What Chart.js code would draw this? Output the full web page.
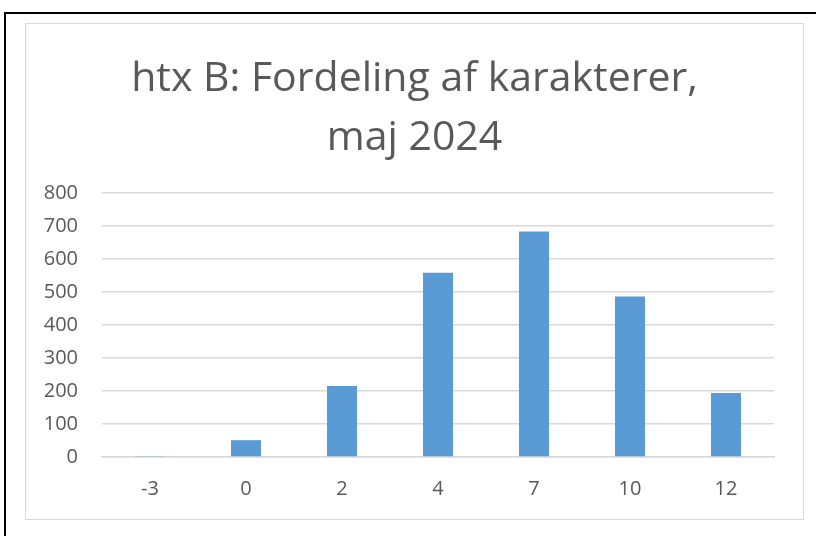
<!DOCTYPE html>
<html>
<head>
<meta charset="utf-8">
<script src="https://cdn.jsdelivr.net/npm/chart.js@4"></script>
<style>
  html, body { margin: 0; padding: 0; background: #fff; }
  body { width: 816px; height: 536px; position: relative; overflow: hidden; }
  #frame { position: absolute; left: 4px; top: 12px; width: 830px; height: 540px;
           border-left: 2px solid #000; border-top: 2px solid #000; }
  #box { position: absolute; left: 25px; top: 23px; width: 777px; height: 495px;
         border: 1px solid #d9d9d9; }
  #chart { display: block; }
</style>
</head>
<body>
<div id="frame"></div>
<div id="box"><canvas id="chart" width="777" height="495"></canvas></div>
<script>
var grades = ['-3', '0', '2', '4', '7', '10', '12'];
var counts = [3, 51, 215, 558, 683, 486, 194];
var titleLines = ['htx B: Fordeling af karakterer,', 'maj 2024'];

// title centred on the whole box, not on the (asymmetric) layout area
var boxTitle = {
    id: 'boxTitle',
    afterDraw: function(chart) {
        var c = chart.ctx;
        c.save();
        c.fillStyle = '#595959';
        c.font = '41px "Open Sans"';
        c.textAlign = 'center';
        c.textBaseline = 'middle';
        titleLines.forEach(function(line, i) {
            c.fillText(line, chart.width / 2, 55 + i * 59.5);
        });
        c.restore();
    }
};

var ctx = document.getElementById('chart').getContext('2d');
var chart = new Chart(ctx, {
    type: 'bar',
    data: {
        labels: grades,
        datasets: [{
            data: counts,
            backgroundColor: '#5b9bd5',
            borderWidth: 0,
            barPercentage: 1,
            categoryPercentage: 0.3125
        }]
    },
    options: {
        responsive: false,
        animation: false,
        layout: { padding: { left: 0, right: 29, top: 169, bottom: 21 } },
        plugins: {
            legend: { display: false },
            tooltip: { enabled: false },
            title: { display: false }
        },
        scales: {
            x: {
                grid: { display: false, drawTicks: false },
                border: { display: true, color: '#d9d9d9', width: 1.5 },
                ticks: { color: '#595959', font: { family: 'Open Sans', size: 20 }, padding: 20 },
                afterFit: function(scale) { scale.height = 41; }
            },
            y: {
                min: 0,
                max: 800,
                grid: { color: '#d9d9d9', lineWidth: 1.5, drawTicks: false },
                border: { display: false },
                ticks: { stepSize: 100, color: '#595959', font: { family: 'Open Sans', size: 20 }, padding: 24 },
                afterFit: function(scale) { scale.width = 76; }
            }
        }
    },
    plugins: [boxTitle]
});
</script>
</body>
</html>
